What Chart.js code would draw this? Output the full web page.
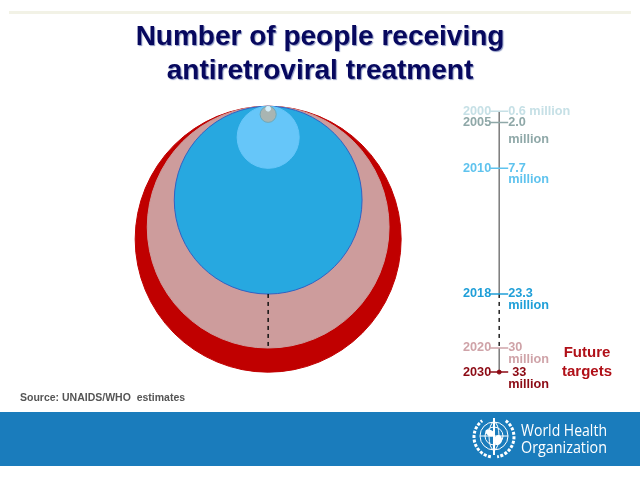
<!DOCTYPE html>
<html>
<head>
<meta charset="utf-8">
<style>
  html, body { margin: 0; padding: 0; background: #fff; }
  canvas { display: block; }
</style>
<script src="https://cdn.jsdelivr.net/npm/chart.js@4"></script>
</head>
<body>
<canvas id="myChart" width="640" height="480"></canvas>
<script>
// people on treatment, in millions
const years = ['2000', '2005', '2010', '2018', '2020', '2030'];
const millions = [0.6, 2.0, 7.7, 23.3, 30, 33];
const valueLabels = [['0.6 million'], ['2.0', 'million'], ['7.7', 'million'], ['23.3', 'million'], ['30', 'million'], ['33', 'million']];

const fills = ['#d6f0fb', '#a9b5b2', '#66c6f9', '#27a8e0', '#cd9c9c', '#c00000'];
const edges = ['#d6f0fb', '#6fa8b8', '#66c6f9', '#2f62c4', '#cd9c9c', '#c00000'];
const textColors = ['#c6e0e6', '#8fa8a8', '#5fc3ee', '#1f9fd8', '#cfa3a8', '#8c0a14'];
const lineGaps = [0, 17, 11.5, 12, 12, 12];
const valueNudge = [0, 0, 0, 0, 0, 4];

const circleX = 41.9;
const timelineX = 78;
// the y axis runs at this many pixels per million, circle radius uses the same
const pxPerMillion = 4.03;

const bubbles = years.map((year, i) => ({
  label: year,
  type: 'bubble',
  data: [{ x: circleX, y: millions[i], r: millions[i] * pxPerMillion }],
  backgroundColor: fills[i],
  borderColor: edges[i],
  borderWidth: 1
}));

// ticks on the timeline, positions are the bottoms of the circles
const ticks = {
  type: 'line',
  label: 'ticks',
  data: millions.map(m => ({ x: timelineX, y: m * 2 })),
  showLine: false,
  pointStyle: 'line',
  pointRadius: 9,
  pointBorderWidth: 1.5,
  pointBorderColor: textColors,
  order: -2
};

function stretch(label, from, to, x, color, dash) {
  return {
    type: 'line',
    label,
    data: millions.slice(from, to + 1).map(m => ({ x, y: m * 2 })),
    borderColor: color,
    borderWidth: 1.5,
    borderDash: dash,
    pointRadius: 0,
    order: -1
  };
}

const reached = stretch('reached', 0, 3, timelineX, '#7a7a7a', []);
const toTarget = stretch('to target', 3, 4, timelineX, '#222', [4, 4]);
const targets = stretch('targets', 4, 5, timelineX, '#7a7a7a', []);
const gapLine = stretch('gap', 3, 4, circleX, '#111', [4, 4]);

const endDot = {
  type: 'line',
  label: 'end',
  data: [{ x: timelineX, y: millions[5] * 2 }],
  pointRadius: 2,
  pointBackgroundColor: textColors[5],
  pointBorderColor: textColors[5],
  order: -3
};

function drawEmblem(ctx, cx, cy) {
  ctx.save();
  ctx.strokeStyle = '#fff';
  ctx.fillStyle = '#fff';
  ctx.lineWidth = 1;
  ctx.beginPath(); ctx.arc(cx, cy - 2, 14, 0, Math.PI * 2); ctx.stroke();
  ctx.beginPath(); ctx.arc(cx, cy - 2, 9, 0, Math.PI * 2); ctx.stroke();
  ctx.beginPath(); ctx.ellipse(cx, cy - 2, 5, 14, 0, 0, Math.PI * 2); ctx.stroke();
  ctx.beginPath(); ctx.moveTo(cx - 14, cy - 2); ctx.lineTo(cx + 14, cy - 2); ctx.stroke();
  // map blobs
  ctx.beginPath(); ctx.ellipse(cx - 4, cy - 5, 5, 3, 0.5, 0, Math.PI * 2); ctx.fill();
  ctx.beginPath(); ctx.ellipse(cx + 4, cy + 2, 4, 5, 0.2, 0, Math.PI * 2); ctx.fill();
  // staff
  ctx.lineWidth = 2;
  ctx.beginPath(); ctx.moveTo(cx, cy - 20); ctx.lineTo(cx, cy + 17); ctx.stroke();
  // wreath
  ctx.lineWidth = 3;
  ctx.setLineDash([3, 1.5]);
  ctx.beginPath(); ctx.arc(cx, cy - 1, 20, Math.PI * 0.55, Math.PI * 1.3); ctx.stroke();
  ctx.beginPath(); ctx.arc(cx, cy - 1, 20, -Math.PI * 0.3, Math.PI * 0.45); ctx.stroke();
  ctx.restore();
}

const slideParts = {
  id: 'slideParts',
  beforeDraw(chart) {
    const ctx = chart.ctx;
    ctx.save();
    ctx.fillStyle = '#f2f2e6';
    ctx.fillRect(9, 11, 622, 3);
    ctx.fillStyle = '#1a7cbc';
    ctx.fillRect(0, 412, 640, 54);
    drawEmblem(ctx, 494, 438);
    ctx.fillStyle = '#fff';
    ctx.font = '16.5px "Open Sans"';
    ctx.textBaseline = 'middle';
    ctx.fillText('World Health', 521, 431, 86);
    ctx.fillText('Organization', 521, 448, 86);
    ctx.fillStyle = '#555';
    ctx.font = 'bold 10.5px "Liberation Sans"';
    ctx.fillText('Source: UNAIDS/WHO  estimates', 20, 398);
    ctx.restore();
    // soft shadow for the title, dropped again before the datasets
    ctx.shadowColor = 'rgba(40,60,140,0.55)';
    ctx.shadowOffsetX = 1;
    ctx.shadowOffsetY = 1;
    ctx.shadowBlur = 1;
  },
  beforeDatasetsDraw(chart) {
    const ctx = chart.ctx;
    ctx.shadowColor = 'transparent';
    ctx.shadowOffsetX = 0;
    ctx.shadowOffsetY = 0;
    ctx.shadowBlur = 0;
  },
  afterDatasetsDraw(chart) {
    const ctx = chart.ctx;
    const { x, y } = chart.scales;
    const mid = x.getPixelForValue(timelineX);
    ctx.save();
    ctx.font = 'bold 12.7px "Liberation Sans"';
    ctx.textBaseline = 'middle';
    years.forEach((year, i) => {
      const py = y.getPixelForValue(millions[i] * 2);
      ctx.fillStyle = textColors[i];
      ctx.textAlign = 'right';
      ctx.fillText(year, mid - 8, py);
      ctx.textAlign = 'left';
      valueLabels[i].forEach((line, k) => {
        const nudge = k === 0 ? valueNudge[i] : 0;
        ctx.fillText(line, mid + 9 + nudge, py + k * lineGaps[i]);
      });
    });
    ctx.fillStyle = '#b01018';
    ctx.font = 'bold 15px "Liberation Sans"';
    ctx.textAlign = 'center';
    ctx.fillText('Future', 587, 353);
    ctx.fillText('targets', 587, 372);
    ctx.restore();
  }
};

new Chart(document.querySelector('#myChart'), {
  type: 'bubble',
  data: { datasets: [endDot, ticks, reached, toTarget, targets, gapLine, ...bubbles] },
  plugins: [slideParts],
  options: {
    responsive: false,
    animation: false,
    layout: { padding: 0, autoPadding: false },
    plugins: {
      legend: { display: false },
      tooltip: { enabled: false },
      title: {
        display: true,
        text: ['Number of people receiving', 'antiretroviral treatment'],
        color: '#07085e',
        font: { family: '"Liberation Sans"', size: 28, weight: 'bold', lineHeight: 1.22 },
        padding: { top: 20, bottom: 8 }
      }
    },
    scales: {
      x: { type: 'linear', display: false, min: 0, max: 100 },
      y: { type: 'linear', display: false, reverse: true, min: -2.48, max: 92.8 }
    }
  }
});
</script>
</body>
</html>
